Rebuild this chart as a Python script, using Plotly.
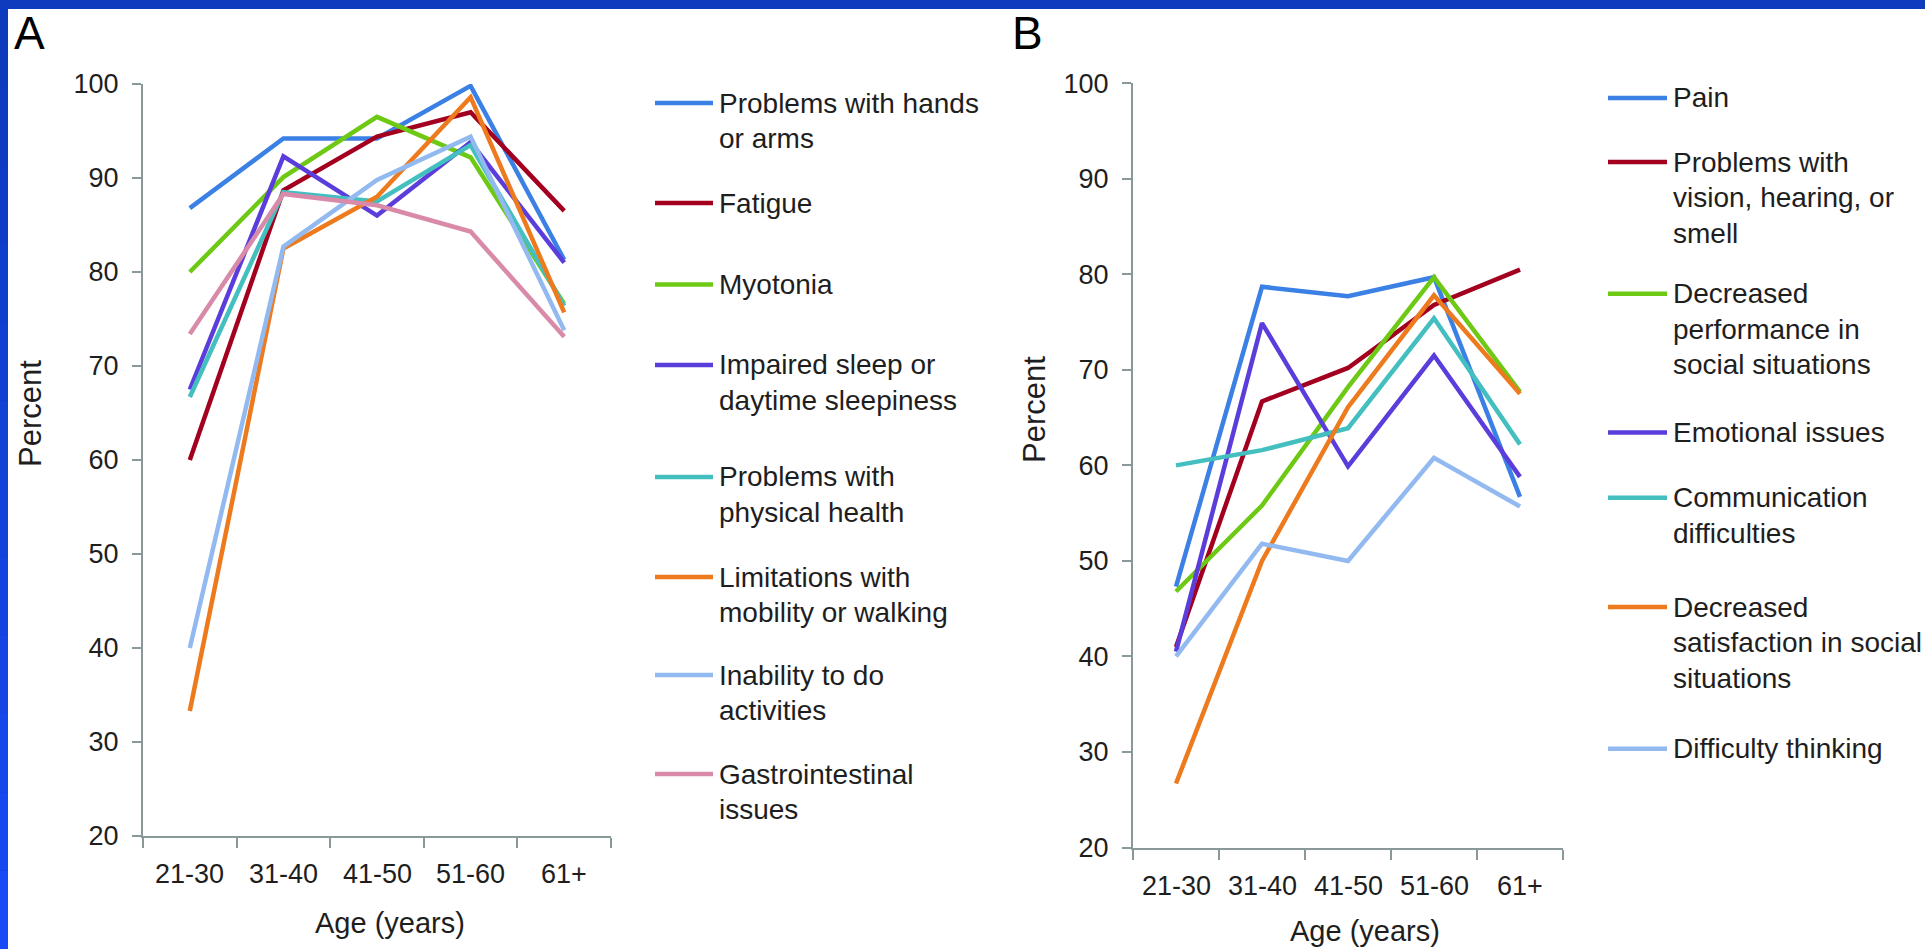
import plotly.graph_objects as go

W, H = 1925, 949

ages = ["21-30", "31-40", "41-50", "51-60", "61+"]

# Panel A
a_names = ["Problems with hands\nor arms", "Fatigue", "Myotonia",
           "Impaired sleep or\ndaytime sleepiness", "Problems with\nphysical health",
           "Limitations with\nmobility or walking", "Inability to do\nactivities",
           "Gastrointestinal\nissues"]
hands = [86.8, 94.2, 94.2, 99.8, 81.3]
fatigue = [60.0, 88.7, 94.4, 97.0, 86.5]
myotonia = [80.0, 90.1, 96.5, 92.2, 76.6]
sleep = [67.5, 92.3, 86.0, 93.8, 81.0]
physical = [66.7, 88.5, 87.5, 93.5, 76.4]
mobility = [33.3, 82.5, 88.0, 98.6, 75.7]
activities = [40.0, 82.7, 89.8, 94.4, 73.8]
gi = [73.4, 88.3, 87.1, 84.3, 73.1]
a_values = [hands, fatigue, myotonia, sleep, physical, mobility, activities, gi]

# Panel B
b_names = ["Pain", "Problems with\nvision, hearing, or\nsmell",
           "Decreased\nperformance in\nsocial situations", "Emotional issues",
           "Communication\ndifficulties", "Decreased\nsatisfaction in social\nsituations",
           "Difficulty thinking"]
pain = [47.3, 78.7, 77.7, 79.7, 56.7]
vision = [41.0, 66.7, 70.2, 76.8, 80.5]
performance = [46.8, 55.8, 68.2, 79.7, 67.7]
emotional = [40.5, 74.9, 59.9, 71.5, 58.8]
communication = [60.0, 61.6, 63.9, 75.4, 62.2]
satisfaction = [26.7, 50.0, 66.1, 77.8, 67.5]
thinking = [40.0, 51.8, 50.0, 60.8, 55.7]
b_values = [pain, vision, performance, emotional, communication, satisfaction, thinking]

y_ticks = [20, 30, 40, 50, 60, 70, 80, 90, 100]

a_colors = ["#3b80e4", "#a3001f", "#6dc914", "#5a3ddb", "#43bfc0", "#ee7a1e", "#92baf0", "#d98aa8"]
b_colors = ["#3b80e4", "#a3001f", "#6dc914", "#5a3ddb", "#43bfc0", "#ee7a1e", "#92baf0"]

FONT = "Liberation Sans, Arial, Helvetica, sans-serif"
TXT = "#1e1e1e"
AXC = "#899898"


def px(x):
    return x / W


def py(y):
    return 1 - y / H


fig = go.Figure()

for name, vals, col in zip(a_names, a_values, a_colors):
    fig.add_trace(go.Scatter(x=ages, y=vals, mode="lines", name=name.replace("\n", " "),
                             line=dict(color=col, width=4.5), xaxis="x", yaxis="y",
                             showlegend=False))
for name, vals, col in zip(b_names, b_values, b_colors):
    fig.add_trace(go.Scatter(x=ages, y=vals, mode="lines", name=name.replace("\n", " "),
                             line=dict(color=col, width=4.5), xaxis="x2", yaxis="y2",
                             showlegend=False))

xcommon = dict(type="category", categoryorder="array", categoryarray=ages,
               range=[-0.5, len(ages) - 0.5], showline=True, linecolor=AXC, linewidth=2,
               ticks="outside", tickson="boundaries", ticklen=10, tickwidth=2,
               tickcolor=AXC, showgrid=False, zeroline=False, showticklabels=False,
               automargin=False, fixedrange=True)
ycommon = dict(range=[20, 100], tickvals=y_ticks, showline=True, linecolor=AXC,
               linewidth=2, ticks="outside", ticklen=9, tickwidth=2, tickcolor=AXC,
               showgrid=False, zeroline=False,
               tickfont=dict(family=FONT, size=27, color=TXT), automargin=False,
               ticklabelstandoff=8, fixedrange=True)

shapes = []
# blue frame
shapes.append(dict(type="rect", xref="paper", yref="paper", x0=px(8), x1=1.0, y0=0, y1=py(9),
                   fillcolor="white", line=dict(width=0), layer="below"))
nstrip = 12
for i in range(nstrip):
    t = i / (nstrip - 1)
    r = int(0x0e + (0x18 - 0x0e) * t)
    g = int(0x3a + (0x4a - 0x3a) * t)
    b = int(0xbd + (0xf5 - 0xbd) * t)
    shapes.append(dict(type="rect", xref="paper", yref="paper", x0=0, x1=px(8),
                       y0=py(9 + (H - 9) * (i + 1) / nstrip), y1=py(9 + (H - 9) * i / nstrip),
                       fillcolor=f"rgb({r},{g},{b})", line=dict(width=0), layer="below"))

annotations = []

# category labels under each x axis
for xref, ylab in [("x", 874), ("x2", 886)]:
    for cat in ages:
        annotations.append(dict(text=cat, xref=xref, yref="paper", x=cat, y=py(ylab),
                                xanchor="center", yanchor="middle", showarrow=False,
                                font=dict(family=FONT, size=27, color=TXT)))


def legend(names, colors, ys, lx0, lx1, tx):
    for name, col, y0 in zip(names, colors, ys):
        shapes.append(dict(type="line", xref="paper", yref="paper", x0=px(lx0), x1=px(lx1),
                           y0=py(y0), y1=py(y0), line=dict(color=col, width=4.5)))
        for j, ln in enumerate(name.split("\n")):
            annotations.append(dict(text=ln, xref="paper", yref="paper", x=px(tx),
                                    y=py(y0 + j * 35.5), xanchor="left", yanchor="middle",
                                    showarrow=False,
                                    font=dict(family=FONT, size=28, color=TXT)))


legend(a_names, a_colors, [103, 203, 284.5, 365, 477, 577, 675, 774], 655, 713, 717)
legend(b_names, b_colors, [98, 162, 293.7, 432.4, 497.8, 607, 748.8], 1608, 1667, 1671)

# panel letters and axis titles
for txt, x in [("A", 12), ("B", 1010)]:
    annotations.append(dict(text=txt, xref="paper", yref="paper", x=px(x), y=py(33),
                            xanchor="left", yanchor="middle", showarrow=False,
                            font=dict(family=FONT, size=46, color="black")))
for x, y in [(390, 923), (1365, 931)]:
    annotations.append(dict(text="Age (years)", xref="paper", yref="paper", x=px(x), y=py(y),
                            xanchor="center", yanchor="middle", showarrow=False,
                            font=dict(family=FONT, size=29, color=TXT)))
for x, y in [(30, 414), (1034, 410)]:
    annotations.append(dict(text="Percent", xref="paper", yref="paper", x=px(x), y=py(y),
                            xanchor="center", yanchor="middle", showarrow=False, textangle=-90,
                            font=dict(family=FONT, size=31, color=TXT)))

fig.update_layout(
    width=W, height=H, autosize=False,
    margin=dict(l=0, r=0, t=0, b=0, pad=0),
    paper_bgcolor="#0f3bbf", plot_bgcolor="rgba(0,0,0,0)",
    showlegend=False,
    xaxis=dict(domain=[px(143), px(611)], anchor="y", **xcommon),
    yaxis=dict(domain=[py(836), py(84)], anchor="x", **ycommon),
    xaxis2=dict(domain=[px(1133), px(1563)], anchor="y2", **xcommon),
    yaxis2=dict(domain=[py(847.5), py(83.3)], anchor="x2", **ycommon),
    shapes=shapes, annotations=annotations,
)

fig.write_html("out.html", config={"displayModeBar": False},
               post_script="document.body.style.margin='0';document.body.style.overflow='hidden';")
